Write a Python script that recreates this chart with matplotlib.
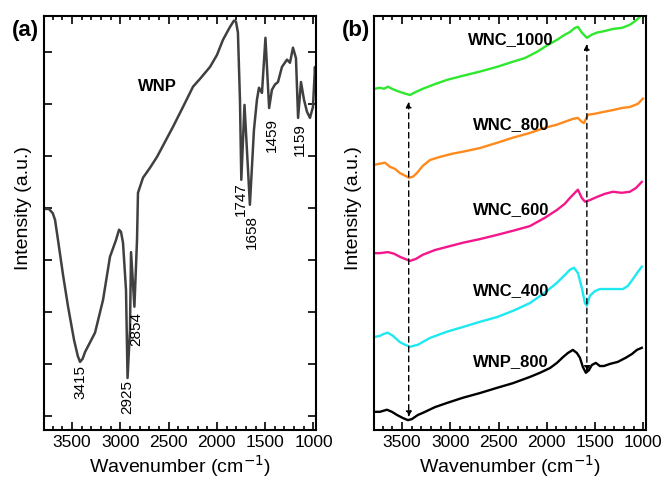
import matplotlib
matplotlib.use('Agg')
import matplotlib.pyplot as plt
from matplotlib.ticker import MultipleLocator
import numpy as np

plt.rcParams['font.family'] = ['Liberation Sans', 'DejaVu Sans']

# (a) WNP spectrum
wnp_x = [3790, 3740, 3700, 3676, 3645, 3593, 3541, 3479, 3440, 3417, 3390, 3365, 3262, 3179, 3107,
         3045, 3013, 2993, 2972, 2941, 2925, 2900, 2889, 2854, 2827, 2817, 2765, 2693, 2620, 2537,
         2454, 2351, 2247, 2175, 2071, 1999, 1937, 1864, 1823, 1802, 1782, 1761, 1747, 1714, 1658,
         1616, 1585, 1564, 1533, 1497, 1459, 1430, 1399, 1367, 1326, 1274, 1243, 1212, 1181,
         1159, 1129, 1098, 1067, 1036, 1005, 984, 974]
wnp_y = [3.98, 3.98, 3.90, 3.77, 3.38, 2.71, 2.10, 1.46, 1.15, 1.04, 1.10, 1.23, 1.60, 2.23, 3.06,
         3.38, 3.58, 3.54, 3.33, 2.42, 0.73, 1.65, 3.15, 2.10, 3.38, 4.29, 4.58, 4.77, 4.98, 5.27,
         5.56, 5.94, 6.33, 6.48, 6.71, 6.94, 7.23, 7.48, 7.60, 7.58, 7.37, 6.08, 4.54, 5.98, 4.06,
         5.50, 6.08, 6.31, 6.21, 7.27, 5.92, 6.27, 6.37, 6.42, 6.71, 6.85, 6.79, 7.08, 6.88,
         5.73, 6.42, 6.08, 5.85, 5.73, 5.94, 6.71, 6.27]
peak_pos = [3415, 2925, 2830, 1747, 1640, 1430, 1140]
peak_txt = ['3415', '2925', '2854', '1747', '1658', '1459', '1159']
peak_top = [0.98, 0.69, 2.00, 4.50, 3.87, 5.73, 5.63]

# (b) carbonised samples
g_x = [3780, 3728, 3686, 3645, 3604, 3552, 3490, 3417, 3355, 3283, 3158, 3034, 2869, 2693, 2517,
       2351, 2227, 2102, 1999, 1895, 1813, 1761, 1709, 1678, 1637, 1585, 1533, 1481, 1399, 1316,
       1223, 1140, 1078, 1026]
g_y = [6.29, 6.31, 6.29, 6.33, 6.29, 6.25, 6.21, 6.17, 6.23, 6.29, 6.38, 6.46, 6.54, 6.62, 6.71,
       6.81, 6.88, 7.00, 7.12, 7.23, 7.33, 7.38, 7.46, 7.48, 7.37, 7.27, 7.33, 7.37, 7.40, 7.44,
       7.46, 7.52, 7.60, 7.69]
o_x = [3780, 3728, 3676, 3624, 3572, 3521, 3469, 3428, 3386, 3345, 3283, 3210, 3107, 2982, 2869,
       2693, 2517, 2351, 2175, 2020, 1895, 1792, 1730, 1678, 1647, 1616, 1574, 1502, 1399, 1316,
       1223, 1140, 1057, 1005]
o_y = [4.83, 4.85, 4.87, 4.79, 4.75, 4.67, 4.62, 4.58, 4.60, 4.67, 4.81, 4.92, 4.98, 5.04, 5.08,
       5.15, 5.25, 5.35, 5.44, 5.54, 5.60, 5.67, 5.71, 5.73, 5.67, 5.63, 5.79, 5.81, 5.85, 5.88,
       5.92, 5.94, 6.00, 6.10]
p_x = [3780, 3728, 3645, 3583, 3521, 3469, 3417, 3355, 3283, 3158, 3034, 2869, 2693, 2517, 2351,
       2175, 2020, 1895, 1813, 1761, 1709, 1678, 1637, 1605, 1554, 1481, 1399, 1316, 1223, 1140,
       1078, 1016]
p_y = [3.13, 3.13, 3.15, 3.12, 3.06, 3.02, 2.98, 3.02, 3.10, 3.19, 3.25, 3.33, 3.40, 3.48, 3.56,
       3.65, 3.81, 3.96, 4.08, 4.19, 4.29, 4.35, 4.19, 4.12, 4.15, 4.21, 4.27, 4.31, 4.29, 4.31,
       4.38, 4.50]
c_x = [3780, 3728, 3686, 3645, 3593, 3521, 3469, 3417, 3334, 3210, 3034, 2869, 2693, 2517, 2351,
       2175, 2020, 1895, 1813, 1761, 1719, 1678, 1637, 1605, 1585, 1554, 1502, 1450, 1378, 1295,
       1212, 1160, 1109, 1057, 1016]
c_y = [1.52, 1.54, 1.58, 1.60, 1.54, 1.42, 1.37, 1.33, 1.37, 1.50, 1.62, 1.71, 1.81, 1.90, 2.02,
       2.17, 2.37, 2.56, 2.71, 2.81, 2.85, 2.75, 2.46, 2.17, 2.12, 2.31, 2.40, 2.44, 2.44, 2.44,
       2.44, 2.50, 2.63, 2.77, 2.87]
k_x = [3780, 3728, 3655, 3604, 3552, 3490, 3438, 3397, 3334, 3283, 3158, 3034, 2869, 2693, 2517,
       2351, 2175, 2071, 1968, 1895, 1833, 1782, 1730, 1688, 1657, 1626, 1595, 1564, 1533, 1492,
       1450, 1409, 1347, 1264, 1181, 1119, 1067, 1016]
k_y = [0.08, 0.08, 0.12, 0.08, 0.02, -0.04, -0.08, -0.06, 0.02, 0.06, 0.17, 0.25, 0.35, 0.44, 0.54,
       0.63, 0.75, 0.83, 0.92, 1.02, 1.13, 1.21, 1.27, 1.21, 1.12, 0.94, 0.83, 0.88, 0.98, 1.02,
       0.96, 0.96, 1.00, 1.04, 1.12, 1.19, 1.27, 1.31]

series = [(g_x, g_y, '#2ee82e', 'WNC_1000', 7.23),
          (o_x, o_y, '#ff8a1c', 'WNC_800', 5.60),
          (p_x, p_y, '#f5168c', 'WNC_600', 3.96),
          (c_x, c_y, '#1ee8f0', 'WNC_400', 2.42),
          (k_x, k_y, '#000000', 'WNP_800', 1.04)]

arrows = [(3430, 6.04, -0.02), (1585, 7.15, 0.85)]

fig = plt.figure(figsize=(6.63, 4.86), dpi=100)
ax1 = fig.add_axes([0.0664, 0.1152, 0.410, 0.852])
ax2 = fig.add_axes([0.564, 0.1152, 0.410, 0.852])

for ax in (ax1, ax2):
    ax.set_xlim(3790, 975)
    ax.set_ylim(-0.27, 7.69)
    ax.xaxis.set_major_locator(MultipleLocator(500))
    ax.xaxis.set_minor_locator(MultipleLocator(100))
    ax.tick_params(which='both', direction='in', top=True, labelsize=12.5, width=1.2)
    ax.tick_params(which='major', length=6)
    ax.tick_params(which='minor', length=3)
    for s in ax.spines.values():
        s.set_linewidth(1.5)
    ax.set_xlabel('Wavenumber (cm$^{-1}$)', fontsize=14, labelpad=2)
    ax.set_ylabel('Intensity (a.u.)', fontsize=14)
    ax.yaxis.set_label_coords(-0.045, 0.536)

ax1.yaxis.set_major_locator(MultipleLocator(1))
ax1.tick_params(axis='y', which='both', right=True, labelleft=False)
ax2.set_yticks([])

ax1.plot(wnp_x, wnp_y, color='#404040', lw=1.8)
for x, t, y in zip(peak_pos, peak_txt, peak_top):
    ax1.text(x, y, t, rotation=90, ha='center', va='top', fontsize=11)
ax1.text(2620, 6.33, 'WNP', fontsize=12, fontweight='bold', ha='center', va='center')

for x, y, col, name, ly in series:
    ax2.plot(x, y, color=col, lw=1.7)
    ax2.text(2370, ly, name, fontsize=12, fontweight='bold', ha='center', va='center')

for x, y0, y1 in arrows:
    ax2.annotate('', xy=(x, y1), xytext=(x, y0),
                 arrowprops=dict(arrowstyle='<|-|>', ls=(0, (4, 3)), lw=1.0, color='black',
                                 mutation_scale=8, shrinkA=0, shrinkB=0))

fig.text(0.038, 0.938, '(a)', fontsize=16, fontweight='bold', ha='center', va='center')
fig.text(0.537, 0.938, '(b)', fontsize=16, fontweight='bold', ha='center', va='center')

fig.savefig('out.png', dpi=100)
